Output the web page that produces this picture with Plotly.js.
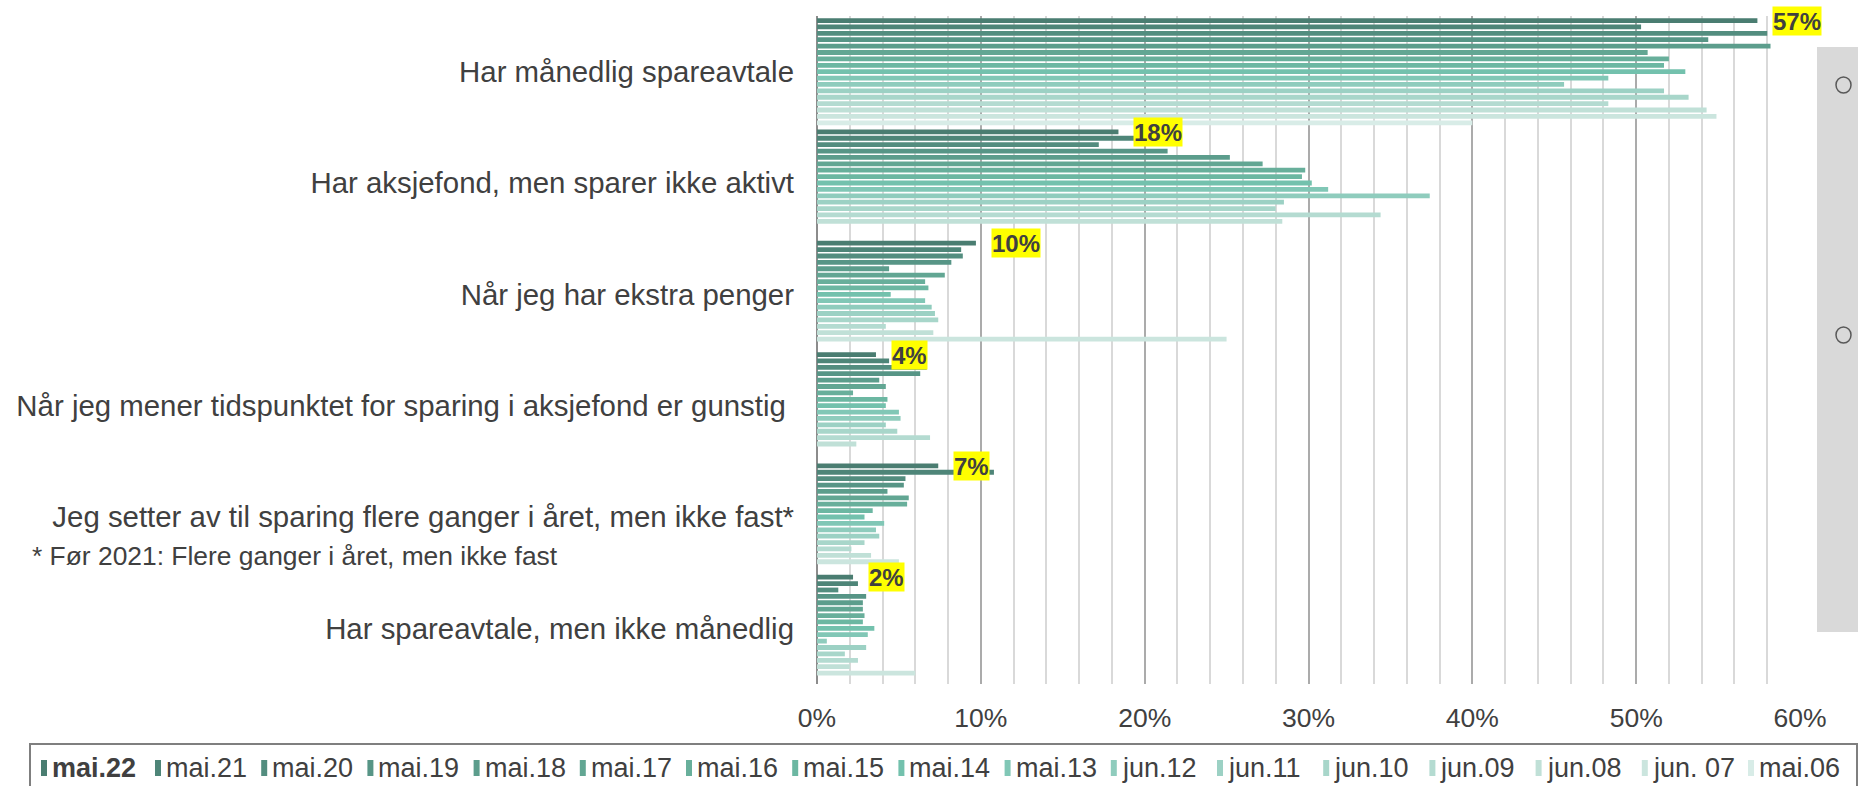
<!DOCTYPE html>
<html>
<head>
<meta charset="utf-8">
<script src="https://cdn.plot.ly/plotly-3.0.1.min.js"></script>
<style>
  html, body { margin: 0; padding: 0; background: #ffffff; }
  #chart { width: 1858px; height: 786px; }
</style>
</head>
<body>
<div id="chart"></div>
<script>
// ---------- DATA ----------
const categories = [
  "Har månedlig spareavtale",
  "Har aksjefond, men sparer ikke aktivt",
  "Når jeg har ekstra penger",
  "Når jeg mener tidspunktet for sparing i aksjefond er gunstig\u00a0",
  "Jeg setter av til sparing flere ganger i året, men ikke fast*",
  "Har spareavtale, men ikke månedlig"
];

const seriesNames = ["mai.22","mai.21","mai.20","mai.19","mai.18","mai.17","mai.16","mai.15",
  "mai.14","mai.13","jun.12","jun.11","jun.10","jun.09","jun.08","jun. 07","mai.06"];

const seriesColors = ["#4a7d71","#4e8578","#538d7f","#579586","#5c9d8c","#62a693","#68af9b","#6cb7a2",
  "#73c1ad","#81c7b6","#8fccbd","#9cd1c4","#a8d6ca","#b4dbd1","#c0e0d7","#cbe5de","#d8ece7"];

// values in percent, one entry per series (mai.22 ... mai.06); null = no data
const harManedligSpareavtale = [57.4, 50.3, 58.0, 54.4, 58.2, 50.7, 52.0, 51.7, 53.0, 48.3, 45.6, 51.7, 53.2, 48.3, 54.3, 54.9, 40.0];
const harAksjefondIkkeAktivt = [18.4, 19.5, 17.2, 21.4, 25.2, 27.2, 29.8, 29.6, 30.2, 31.2, 37.4, 28.5, 28.0, 34.4, 28.4, null, null];
const narEkstraPenger        = [9.7, 8.8, 8.9, 8.2, 4.4, 7.8, 6.6, 6.8, 4.5, 6.6, 7.0, 7.2, 7.4, 4.2, 7.1, 25.0, null];
const narTidspunktGunstig    = [3.6, 4.4, 6.7, 6.3, 3.8, 4.2, 2.2, 4.3, 4.2, 5.0, 5.1, 4.2, 4.9, 6.9, 2.4, null, null];
const flereGangerIkkeFast    = [7.4, 10.8, 5.4, 5.3, 4.3, 5.6, 5.5, 3.4, 2.9, 4.1, 3.6, 3.8, 2.9, 2.1, 3.3, 5.0, null];
const spareavtaleIkkeManedlig= [2.2, 2.5, 1.3, 3.0, 2.8, 2.8, 2.9, 2.8, 3.5, 3.1, 0.6, 3.0, 1.7, 2.5, 2.0, 6.0, null];

const xTickVals = [0, 10, 20, 30, 40, 50, 60];
const xTickText = xTickVals.map(v => v + "%");
const footnote = "* Før 2021: Flere ganger i året, men ikke fast";

// ---------- BUILD ----------
const byCategory = [harManedligSpareavtale, harAksjefondIkkeAktivt, narEkstraPenger,
  narTidspunktGunstig, flereGangerIkkeFast, spareavtaleIkkeManedlig];

const traces = seriesNames.map((name, i) => ({
  type: "bar",
  orientation: "h",
  name: name,
  y: categories,
  x: byCategory.map(arr => arr[i]),
  marker: { color: seriesColors[i], line: { width: 0 } },
  hoverinfo: "skip",
  showlegend: false
}));

const W = 1858, H = 786;
const PL = 817, PR = 1800, PT = 16, PB = 684;
const px = v => (v - PL) / (PR - PL);
const py = v => (PB - v) / (PB - PT);

const FONT = "Liberation Sans, Arial, sans-serif";
const TXT = "#404040";

const annotations = [];
const shapes = [];

// data labels for the mai.22 series
const slotOffset = 51; // px from category centre to first bar
categories.forEach((c, k) => {
  const v = byCategory[k][0];
  annotations.push({
    x: v, y: c, xref: "x", yref: "y",
    text: "<b>" + Math.round(v) + "%</b>",
    showarrow: false, xanchor: "left", yanchor: "middle",
    xshift: 15, yshift: slotOffset,
    bgcolor: "#ffff00", borderpad: 0, height: 28,
    font: { family: FONT, size: 24, color: TXT }
  });
});

// footnote
annotations.push({
  xref: "paper", yref: "paper", x: px(30), y: py(556),
  xanchor: "left", yanchor: "middle", showarrow: false,
  text: footnote, font: { family: FONT, size: 26.4, color: TXT }
});

// legend box
shapes.push({ type: "rect", xref: "paper", yref: "paper",
  x0: px(30), x1: px(1857), y0: py(792), y1: py(744),
  line: { color: "#7f7f7f", width: 2 }, fillcolor: "rgba(0,0,0,0)" });

// legend entries
seriesNames.forEach((name, i) => {
  const sx = i === 0 ? 41 : 155 + (i - 1) * 106.2;
  const cy = 768;
  shapes.push({ type: "rect", xref: "paper", yref: "paper",
    x0: px(sx), x1: px(sx + 6), y0: py(cy + 8), y1: py(cy - 8),
    fillcolor: seriesColors[i], line: { width: 0 } });
  annotations.push({
    xref: "paper", yref: "paper", x: px(sx + 9), y: py(cy),
    xanchor: "left", yanchor: "middle", showarrow: false,
    text: i === 0 ? "<b>" + name + "</b>" : name,
    font: { family: FONT, size: 27, color: TXT }
  });
});

// grey panel on the right with two small circles
shapes.push({ type: "rect", xref: "paper", yref: "paper",
  x0: px(1817), x1: px(1862), y0: py(632), y1: py(47),
  fillcolor: "#d9d9d9", line: { width: 0 }, layer: "below" });
[85, 335].forEach(cy => {
  shapes.push({ type: "circle", xref: "paper", yref: "paper",
    x0: px(1836), x1: px(1851), y0: py(cy + 8), y1: py(cy - 8),
    line: { color: "#595959", width: 1.5 }, fillcolor: "rgba(0,0,0,0)" });
});

const layout = {
  width: W, height: H,
  margin: { l: PL, r: W - PR, t: PT, b: H - PB, pad: 0 },
  paper_bgcolor: "#ffffff", plot_bgcolor: "#ffffff",
  barmode: "group",
  bargap: 0.024,
  bargroupgap: 0.25,
  showlegend: false,
  font: { family: FONT, color: TXT },
  xaxis: {
    range: [0, 60], fixedrange: true, autorange: false,
    tickmode: "array", tickvals: xTickVals, ticktext: xTickText,
    showgrid: true, gridcolor: "#ababab", gridwidth: 2,
    minor: { dtick: 2, showgrid: true, gridcolor: "#d9d9d9", gridwidth: 2 },
    zeroline: true, zerolinecolor: "#8c8c8c", zerolinewidth: 2,
    showline: false, ticks: "",
    tickfont: { family: FONT, size: 26.5, color: TXT },
    ticklabelstandoff: 15
  },
  yaxis: {
    type: "category", autorange: false, range: [5.5, -0.5], fixedrange: true,
    showgrid: false, zeroline: false, showline: false, ticks: "",
    tickfont: { family: FONT, size: 29.4, color: TXT },
    ticklabelstandoff: 22
  },
  annotations: annotations,
  shapes: shapes
};

Plotly.newPlot("chart", traces, layout, { displayModeBar: false, staticPlot: true });
</script>
</body>
</html>
